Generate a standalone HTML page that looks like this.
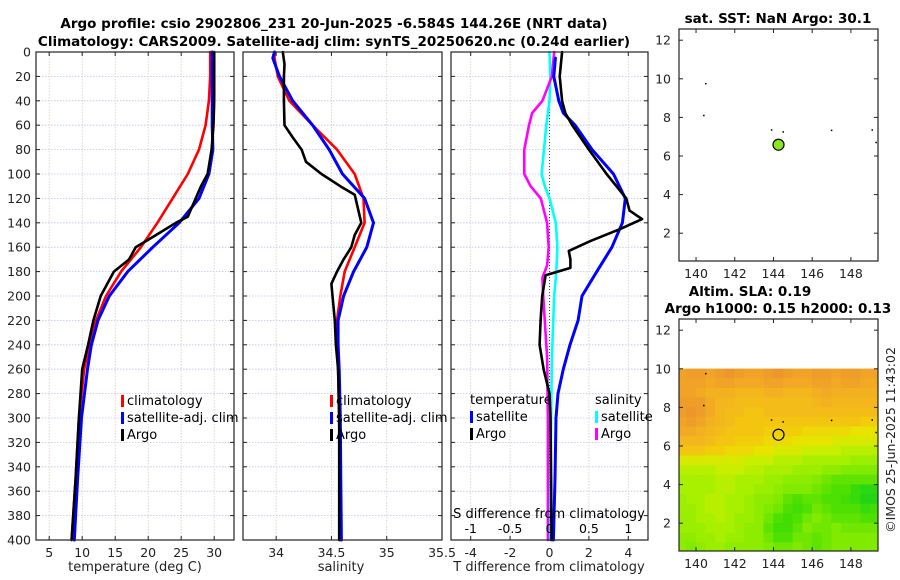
<!DOCTYPE html>
<html><head><meta charset="utf-8"><style>
html,body{margin:0;padding:0;background:#fff;}
svg{display:block;font-family:"DejaVu Sans","Liberation Sans",sans-serif;}
</style></head><body>
<svg id="fig" width="900" height="580" viewBox="0 0 900 580" xmlns="http://www.w3.org/2000/svg">
<text x="334" y="28" font-size="13.5" font-weight="bold" text-anchor="middle" fill="#000">Argo profile: csio 2902806_231 20-Jun-2025 -6.584S 144.26E (NRT data)</text>
<text x="334" y="46" font-size="13.5" font-weight="bold" text-anchor="middle" fill="#000">Climatology: CARS2009. Satellite-adj clim: synTS_20250620.nc (0.24d earlier)</text>
<text x="778" y="23" font-size="13.5" font-weight="bold" text-anchor="middle">sat. SST: NaN Argo: 30.1</text>
<text x="750" y="296" font-size="13.5" font-weight="bold" text-anchor="middle">Altim. SLA: 0.19</text>
<text x="778" y="313" font-size="13.5" font-weight="bold" text-anchor="middle">Argo h1000: 0.15 h2000: 0.13</text>
<text transform="translate(895,440) rotate(-90)" font-size="12.5" text-anchor="middle" fill="#222">©IMOS 25-Jun-2025 11:43:02</text>
<g id="plots"></g>
</svg>
<script>
// ---------- data ----------
const depthT = [0,20,40,60,80,100,120,140,160,180,200,220,240,260,300,350,400];
const tempClim = [29.4,29.4,29.2,28.7,27.7,26.0,23.7,21.4,18.9,15.9,13.6,12.1,11.1,10.3,9.5,9.0,8.4];
const tempSat = [29.7,29.7,29.7,29.7,29.8,29.2,27.7,24.7,20.7,16.9,14.1,12.4,11.4,10.8,9.9,9.3,8.8];
const depthArgoT = [0,20,40,60,80,100,110,120,135,140,150,160,170,180,190,200,220,240,260,300,350,400];
const tempArgo = [30.0,30.0,30.0,29.9,29.6,29.0,28.0,27.2,26.0,24.2,21.2,18.1,17.1,14.8,13.8,12.8,11.7,10.9,10.0,9.5,9.0,8.4];

const depthS = [0,5,20,40,60,80,100,120,140,160,180,200,220,240,260,300,350,400];
const salClim = [33.985,33.985,34.015,34.12,34.33,34.55,34.71,34.79,34.80,34.71,34.62,34.58,34.55,34.555,34.56,34.57,34.575,34.58];
const salSat = [33.985,33.97,34.03,34.15,34.33,34.48,34.60,34.80,34.88,34.82,34.70,34.61,34.56,34.56,34.57,34.58,34.585,34.59];
const depthArgoS = [0,10,20,40,60,70,80,90,100,110,117,140,150,160,170,180,190,200,220,240,260,300,350,400];
const salArgo = [34.06,34.075,34.07,34.07,34.075,34.15,34.23,34.27,34.41,34.58,34.71,34.77,34.71,34.68,34.61,34.55,34.50,34.51,34.53,34.54,34.56,34.57,34.57,34.57];

const depthD = [0,20,40,50,60,80,100,120,130,137,145,155,163,170,177,183,200,220,240,260,280,300,350,400];
const tdiffArgo = [0.64,0.52,0.64,0.8,1.15,2.0,2.9,3.9,4.06,4.7,3.6,2.07,0.98,1.06,1.06,-0.2,-0.37,-0.45,-0.5,-0.3,0.0,0.05,0.08,0.1];
const depthD2 = [5,20,40,50,60,80,100,120,140,160,180,200,220,240,260,280,300,350,400];
const tdiffSat = [0.3,0.22,0.47,0.7,1.3,2.16,3.25,3.85,3.7,3.17,2.4,1.65,1.45,1.04,0.7,0.43,0.33,0.28,0.2];
const depthD3 = [0,20,40,50,60,80,100,110,120,140,160,175,185,200,250,300,400];
const sdiffSat = [0.0,0.01,0.0,-0.02,-0.04,-0.07,-0.1,-0.06,0.0,0.08,0.1,0.09,0.08,0.06,0.03,0.02,0.01];
const sdiffArgo = [0.06,0.03,-0.09,-0.22,-0.26,-0.32,-0.32,-0.24,-0.11,-0.03,-0.01,-0.03,-0.09,-0.08,-0.03,-0.02,-0.02];

const depthTicks = [0,20,40,60,80,100,120,140,160,180,200,220,240,260,280,300,320,340,360,380,400];
const tempTicks = [5,10,15,20,25,30];
const salTicks = [34,34.5,35,35.5];
const salTickLabels = ["34","34.5","35","35.5"];
const tdTicks = [-4,-2,0,2,4];
const sdTicks = [-1,-0.5,0,0.5,1];
const sdTickLabels = ["-1","-0.5","0","0.5","1"];
const lonTicks = [140,142,144,146,148];
const latTicks = [2,4,6,8,10,12];

const floatLon = 144.26, floatLat = 6.584;
const dotLon = [140.5,140.4,143.9,144.5,147.0,149.1,149.3];
const dotLat = [9.75,8.1,7.35,7.25,7.33,7.35,6.7];

// SLA grid (x0.01 m), rows from lat 9.75 down to 0.75, cols lon 139.25..149.25
const slaLats = [9.75,9.25,8.75,8.25,7.75,7.25,6.75,6.25,5.75,5.25,4.75,4.25,3.75,3.25,2.75,2.25,1.75,1.25,0.75];
const slaLons = [139.25,139.75,140.25,140.75,141.25,141.75,142.25,142.75,143.25,143.75,144.25,144.75,145.25,145.75,146.25,146.75,147.25,147.75,148.25,148.75,149.25];
const slaRows = [
[24,25,25,24,25,26,25,24,24,25,26,25,24,24,25,25,24,25,25,24,24],
[24,24,24,23,24,24,23,23,23,24,24,23,23,23,24,24,23,24,24,23,23],
[24,24,23,22,22,22,21,21,21,22,22,21,21,21,22,23,22,22,22,22,22],
[25,25,25,23,21,21,20,20,20,20,20,20,20,20,21,22,21,21,21,21,21],
[25,26,25,23,21,20,20,19,19,20,20,20,20,20,20,20,20,20,20,20,20],
[24,25,24,22,21,20,19,19,19,19,19,19,19,19,19,19,19,19,19,18,18],
[23,23,22,21,20,19,19,19,19,18,18,18,18,17,17,17,17,17,16,16,16],
[21,21,21,20,19,19,18,18,18,17,17,17,16,16,16,16,15,15,15,15,15],
[19,19,19,18,18,17,17,17,16,16,15,15,15,14,14,14,14,13,13,13,13],
[15,15,15,15,15,15,15,14,14,14,13,13,13,12,12,12,12,12,11,11,11],
[13,13,13,13,14,14,14,13,13,12,12,12,11,11,11,10,10,9,9,9,9],
[12,12,12,12,13,13,12,12,12,11,11,10,10,10,9,8,7,7,7,7,7],
[12,12,12,12,13,13,12,12,11,11,10,9,9,9,8,7,6,6,4,3,3],
[11,12,12,13,13,12,12,11,10,10,9,7,6,7,7,6,6,5,4,2,2],
[11,11,12,13,13,12,12,11,10,9,8,6,5,6,8,7,6,6,6,4,5],
[11,11,12,12,13,12,11,11,10,8,6,5,6,8,9,8,7,7,7,6,6],
[11,11,11,12,12,12,11,10,10,7,5,5,7,9,8,8,9,8,8,8,8],
[10,10,11,11,12,11,11,10,10,8,6,6,8,8,7,8,9,9,9,9,9],
[10,9,10,11,11,10,10,10,10,9,8,8,9,8,7,8,9,9,9,9,9]
];

// ---------- drawing ----------
const NS="http://www.w3.org/2000/svg";
const root=document.getElementById('plots');
function mk(tag,attrs,parent){const e=document.createElementNS(NS,tag);for(const k in attrs)e.setAttribute(k,attrs[k]);(parent||root).appendChild(e);return e;}
function txt(x,y,s,size,anchor,parent){const t=mk('text',{x:x,y:y,'font-size':size,'text-anchor':anchor,fill:'#222'},parent);t.textContent=s;return t;}

const PY0=52, PY1=540;
const yD=d=>PY0+(d/400)*(PY1-PY0);
function lin(d0,d1,r0,r1){return v=>r0+(v-d0)/(d1-d0)*(r1-r0);}

function panel(name,x0,x1,xmin,xmax,ticks,labels,showY){
  const g=mk('g',{});
  
  
  const xs=lin(xmin,xmax,x0,x1);
  mk('rect',{x:x0,y:PY0,width:x1-x0,height:PY1-PY0,fill:'#fff'},g);
  depthTicks.forEach(d=>{
    const y=yD(d);
    mk('line',{x1:x0,x2:x1,y1:y,y2:y,stroke:'#b8c4ec','stroke-width':0.8,'stroke-dasharray':'1.5,1.5'},g);
    mk('line',{x1:x0,x2:x0+4,y1:y,y2:y,stroke:'#222'},g);
    mk('line',{x1:x1-4,x2:x1,y1:y,y2:y,stroke:'#222'},g);
    if(showY){const t=txt(x0-5,y+4.5,String(d),12.5,'end',g);}
  });
  ticks.forEach((v,i)=>{
    const x=xs(v);
    mk('line',{x1:x,x2:x,y1:PY0,y2:PY1,stroke:'#e0c8b8','stroke-width':0.8,'stroke-dasharray':'1.5,1.5'},g);
    mk('line',{x1:x,x2:x,y1:PY1-4,y2:PY1,stroke:'#222'},g);
    mk('line',{x1:x,x2:x,y1:PY0,y2:PY0+4,stroke:'#222'},g);
    const t=txt(x,PY1+17,labels[i],12.5,'middle',g);
    
    
  });
  return {g,xs};
}
function line(g,xs,vals,depths,color,name,w){
  const pts=vals.map((v,i)=>xs(v).toFixed(1)+','+yD(depths[i]).toFixed(1)).join(' ');
  const p=mk('polyline',{points:pts,fill:'none',stroke:color,'stroke-width':w||2.6,'stroke-linejoin':'round','stroke-linecap':'round'},g);
  
  
}
function frame(g,x0,x1){mk('rect',{x:x0,y:PY0,width:x1-x0,height:PY1-PY0,fill:'none',stroke:'#222','stroke-width':1.2},g);}
function legend(g,x,y,items){
  items.forEach((it,i)=>{
    const yy=y+i*17;
    if(it.c){mk('rect',{x:x,y:yy-10,width:3,height:12,fill:it.c},g);}
    const t=txt(x+(it.c?6:0),yy,it.s,13,'start',g);
    t.setAttribute('fill','#000');
    
    
  });
}

// panel 1 temperature
let P=panel('temperature-panel',36,234,3,33,tempTicks,tempTicks.map(String),true);
line(P.g,P.xs,tempClim,depthT,'#f00','temp-climatology-line');
line(P.g,P.xs,tempSat,depthT,'#00f','temp-satellite-line',3);
line(P.g,P.xs,tempArgo,depthArgoT,'#000','temp-argo-line');
legend(P.g,121,405,[{c:'#f00',s:'climatology'},{c:'#00f',s:'satellite-adj. clim'},{c:'#000',s:'Argo'}]);
frame(P.g,36,234);
txt(135,571,'temperature (deg C)',13,'middle',P.g);

// panel 2 salinity
P=panel('salinity-panel',243,442,33.7,35.5,salTicks,salTickLabels,false);
line(P.g,P.xs,salClim,depthS,'#f00','sal-climatology-line');
line(P.g,P.xs,salSat,depthS,'#00f','sal-satellite-line',3);
line(P.g,P.xs,salArgo,depthArgoS,'#000','sal-argo-line');
legend(P.g,330,405,[{c:'#f00',s:'climatology'},{c:'#00f',s:'satellite-adj. clim'},{c:'#000',s:'Argo'}]);
frame(P.g,243,442);
txt(341,571,'salinity',13,'middle',P.g);

// panel 3 differences
P=panel('difference-panel',451,648,-5,5,tdTicks,tdTicks.map(String),false);
const sx=lin(-1.25,1.25,451,648);
mk('line',{x1:P.xs(0),x2:P.xs(0),y1:PY0,y2:PY1,stroke:'#444','stroke-width':1,'stroke-dasharray':'1,2'},P.g);
line(P.g,sx,sdiffSat,depthD3,'#0ff','sdiff-satellite-line');
line(P.g,sx,sdiffArgo,depthD3,'#f0f','sdiff-argo-line');
line(P.g,P.xs,tdiffSat,depthD2,'#00f','tdiff-satellite-line',3);
line(P.g,P.xs,tdiffArgo,depthD,'#000','tdiff-argo-line');
legend(P.g,470,404,[{s:'temperature'},{c:'#00f',s:'satellite'},{c:'#000',s:'Argo'}]);
legend(P.g,595,404,[{s:'salinity'},{c:'#0ff',s:'satellite'},{c:'#f0f',s:'Argo'}]);
sdTicks.forEach((v,i)=>{const t=txt(sx(v),533,sdTickLabels[i],12.5,'middle',P.g);t.setAttribute('fill','#000');});
txt(549,518,'S difference from climatology',13,'middle',P.g).setAttribute('fill','#000');
frame(P.g,451,648);
txt(549,571,'T difference from climatology',13,'middle',P.g);

// maps
function slaColor(v){
  const stops=[[0,[16,208,32]],[3,[42,216,16]],[6,[78,224,0]],[9,[128,234,0]],[12,[168,240,0]],[14,[200,238,0]],[16,[232,228,0]],[18,[242,206,10]],[20,[244,188,24]],[23,[242,170,36]],[26,[238,150,44]]];
  if(v<=stops[0][0])return 'rgb('+stops[0][1]+')';
  for(let i=1;i<stops.length;i++){if(v<=stops[i][0]){const a=stops[i-1],b=stops[i],f=(v-a[0])/(b[0]-a[0]);return 'rgb('+a[1].map((c,k)=>Math.round(c+(b[1][k]-c)*f)).join(',')+')';}}
  return 'rgb('+stops[stops.length-1][1]+')';
}
function map(name,x0,y0,x1,y1,withSla){
  const g=mk('g',{});
  
  
  const xs=lin(139.12,149.4,x0,x1), ys=lin(12.58,0.56,y0,y1);
  mk('rect',{x:x0,y:y0,width:x1-x0,height:y1-y0,fill:'#fff'},g);
  if(withSla){
    const cl=mk('clipPath',{id:'mclip'},g);
    mk('rect',{x:x0,y:y0,width:x1-x0,height:y1-y0},cl);
    const hg=mk('g',{'clip-path':'url(#mclip)'},g);
    slaRows.forEach((row,r)=>row.forEach((v,c)=>{
      const la=slaLats[r], lo=slaLons[c];
      const cx0=xs(lo-0.26), cx1=xs(lo+0.26), cy0=ys(la+0.26), cy1=ys(la-0.26);
      const rc=mk('rect',{x:cx0,y:cy0,width:cx1-cx0,height:cy1-cy0,fill:slaColor(v)},hg);
      
      
    }));
  }
  dotLon.forEach((lo,i)=>mk('rect',{x:xs(lo)-0.7,y:ys(dotLat[i])-0.7,width:1.5,height:1.5,fill:'#000'},g));
  const c=mk('circle',{cx:xs(floatLon),cy:ys(floatLat),r:5.5,fill:withSla?'none':'#8be81a',stroke:'#000','stroke-width':1.2},g);
  
  
  lonTicks.forEach(v=>{const x=xs(v);mk('line',{x1:x,x2:x,y1:y1-4,y2:y1,stroke:'#222'},g);mk('line',{x1:x,x2:x,y1:y0,y2:y0+4,stroke:'#222'},g);
    const t=txt(x,y1+17,String(v),12.5,'middle',g);});
  latTicks.forEach(v=>{const y=ys(v);mk('line',{x1:x0,x2:x0+4,y1:y,y2:y,stroke:'#222'},g);mk('line',{x1:x1-4,x2:x1,y1:y,y2:y,stroke:'#222'},g);
    const t=txt(x0-8,y+4.5,String(v),12.5,'end',g);});
  mk('rect',{x:x0,y:y0,width:x1-x0,height:y1-y0,fill:'none',stroke:'#222','stroke-width':1.2},g);
}
map('sst-map',679,29,878,261,false);
map('sla-map',679,319,878,551,true);
</script>
</body></html>
